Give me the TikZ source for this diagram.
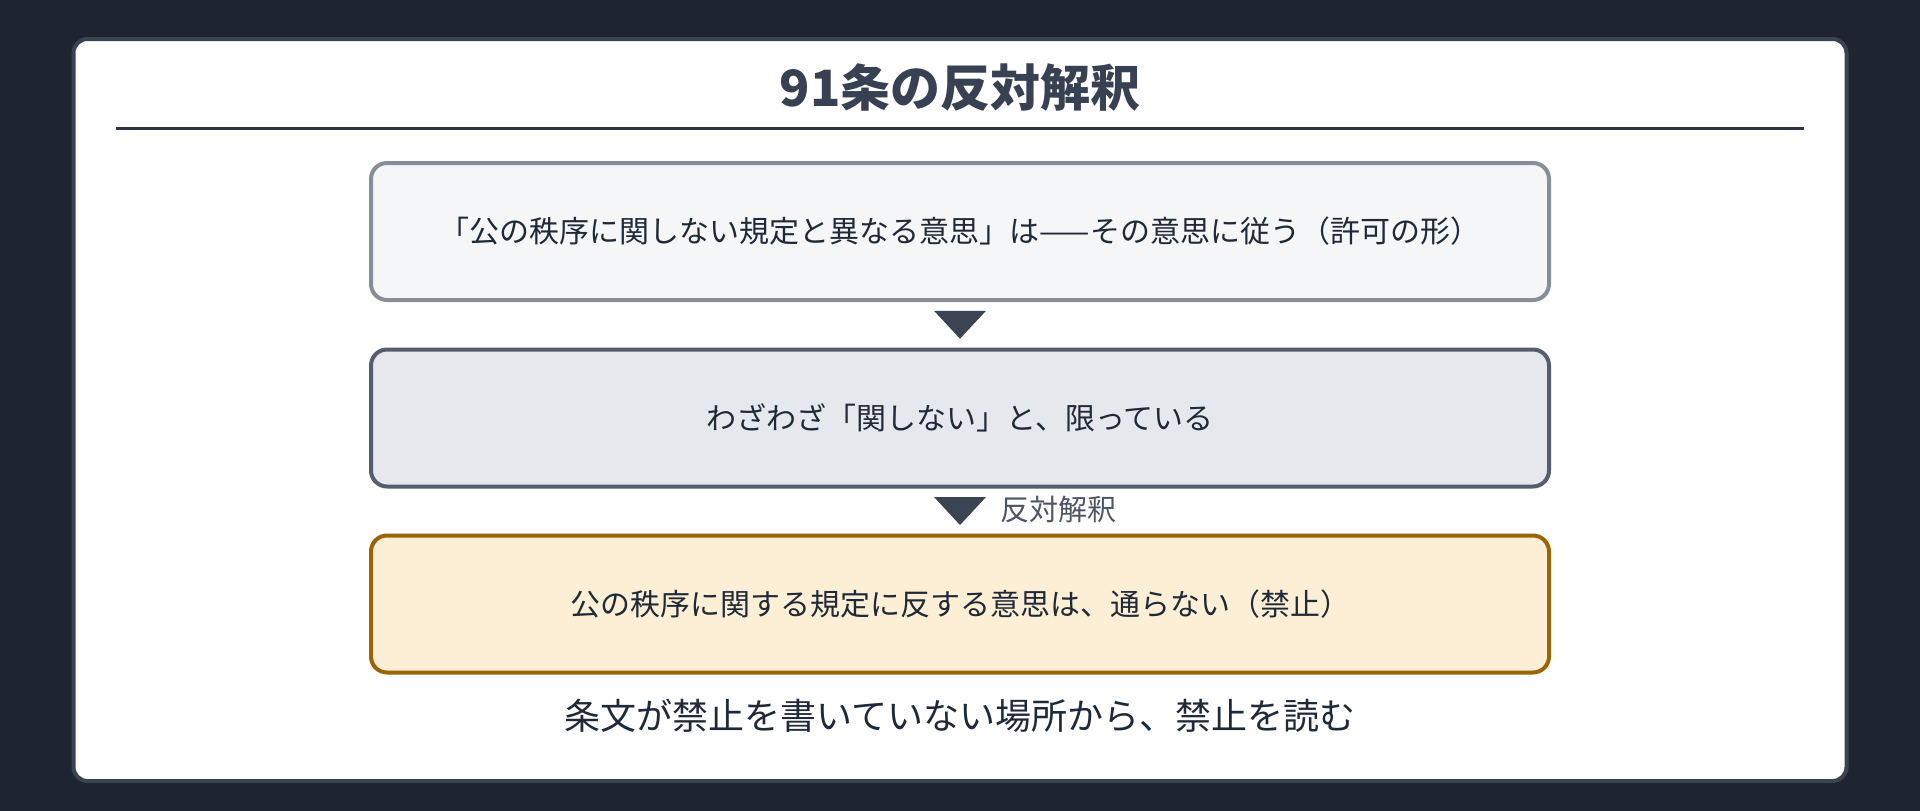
\documentclass[tikz,border=0pt]{standalone}
\usepackage{fontspec}
\setmainfont{Noto Sans CJK JP}
\usetikzlibrary{calc,positioning}
\definecolor{bgc}{HTML}{1E2530}
\definecolor{cardborder}{HTML}{3A4351}
\definecolor{titlec}{HTML}{374151}
\definecolor{rulec}{HTML}{2D3340}
\definecolor{txt}{HTML}{1F2937}
\definecolor{aFill}{HTML}{F5F6F8}
\definecolor{aDraw}{HTML}{868E9C}
\definecolor{bFill}{HTML}{E5E8ED}
\definecolor{bDraw}{HTML}{555E6D}
\definecolor{cFill}{HTML}{FCEFD5}
\definecolor{cDraw}{HTML}{9B6507}
\definecolor{tric}{HTML}{3A4452}
\definecolor{labc}{HTML}{4B5563}
\tikzset{
  card/.style={draw=cardborder, fill=white, line width=4pt, rounded corners=14pt,
    minimum width=1773pt, minimum height=742pt, inner sep=0pt},
  stepbox/.style={line width=4pt, rounded corners=16pt, minimum width=1178pt,
    minimum height=137pt, inner sep=0pt, text=txt,
    font=\fontsize{30}{36}\selectfont},
  arrowtri/.style={fill=tric},
  lab/.style={text=labc, font=\fontsize{29}{35}\selectfont, inner sep=2pt, anchor=west},
}
\begin{document}
\begin{tikzpicture}[x=1pt,y=-1pt]
\fill[bgc] (0,0) rectangle (1920,811);
\useasboundingbox (0,0) rectangle (1920,811);
\node[card] (card) at (960,410) {};
\node[text=titlec, font=\fontsize{50}{60}\selectfont\bfseries] (title) at (960,88) {91条の反対解釈};
\coordinate (rl) at (116,128.6);
\coordinate (rr) at (1804,128.6);
\draw[rulec, line width=2.5pt] (rl) -- (rr);
\node[stepbox, draw=aDraw, fill=aFill] (b1) at (960,231.5) {「公の秩序に関しない規定と異なる意思」は——その意思に従う（許可の形）};
\node[stepbox, draw=bDraw, fill=bFill] (b2) at (960,418) {わざわざ「関しない」と、限っている};
\node[stepbox, draw=cDraw, fill=cFill] (b3) at (960,604) {公の秩序に関する規定に反する意思は、通らない（禁止）};
\path (b1.south) -- (b2.north) coordinate[pos=0.5] (m1);
\path (b2.south) -- (b3.north) coordinate[pos=0.5] (m2);
\fill[arrowtri] ($(m1)+(-26,-14)$) -- ($(m1)+(26,-14)$) -- ($(m1)+(0,14)$) -- cycle;
\fill[arrowtri] ($(m2)+(-26,-14)$) -- ($(m2)+(26,-14)$) -- ($(m2)+(0,14)$) -- cycle;
\node[lab] (l2) at ($(m2)+(38,-2)$) {反対解釈};
\node[text=txt, font=\fontsize{36}{43}\selectfont] (foot) at (960,716) {条文が禁止を書いていない場所から、禁止を読む};
\end{tikzpicture}
\end{document}
